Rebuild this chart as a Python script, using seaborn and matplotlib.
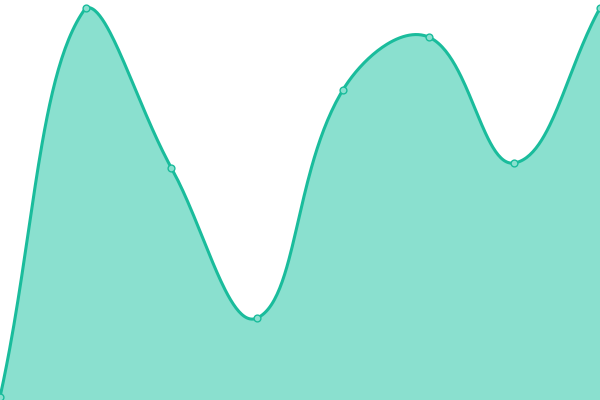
import matplotlib
matplotlib.use('Agg')
import matplotlib.pyplot as plt
import numpy as np
import pandas as pd
import seaborn as sns

# values (one per category, bottom of plot = 0, top = 400)
labels = ['a', 'b', 'c', 'd', 'e', 'f', 'g', 'h']
values = [3, 392, 232, 82, 310, 363, 237, 392]

LINE = '#1abc9c'
FILL = '#8ae0cf'
WIDTH = 600
HEIGHT = 400
TENSION = 0.4


def spline_control_points(px, py, tension):
    """Chart.js style control points, capped to the chart area."""
    n = len(px)
    prev_cp = np.zeros((n, 2))
    next_cp = np.zeros((n, 2))
    for i in range(n):
        p0 = (px[max(i - 1, 0)], py[max(i - 1, 0)])
        p1 = (px[i], py[i])
        p2 = (px[min(i + 1, n - 1)], py[min(i + 1, n - 1)])
        d01 = np.hypot(p1[0] - p0[0], p1[1] - p0[1])
        d12 = np.hypot(p2[0] - p1[0], p2[1] - p1[1])
        tot = d01 + d12
        s01 = d01 / tot if tot else 0
        s12 = d12 / tot if tot else 0
        fa, fb = tension * s01, tension * s12
        prev_cp[i] = (p1[0] - fa * (p2[0] - p0[0]), p1[1] - fa * (p2[1] - p0[1]))
        next_cp[i] = (p1[0] + fb * (p2[0] - p0[0]), p1[1] + fb * (p2[1] - p0[1]))
    for cp in (prev_cp, next_cp):
        cp[:, 0] = np.clip(cp[:, 0], 0, WIDTH)
        cp[:, 1] = np.clip(cp[:, 1], 0, HEIGHT)
    return prev_cp, next_cp


def smooth_curve(px, py, tension, steps=60):
    prev_cp, next_cp = spline_control_points(px, py, tension)
    t = np.linspace(0, 1, steps)[:, None]
    parts = []
    for i in range(len(px) - 1):
        a = np.array([px[i], py[i]])
        b = next_cp[i]
        c = prev_cp[i + 1]
        d = np.array([px[i + 1], py[i + 1]])
        seg = ((1 - t) ** 3) * a + 3 * ((1 - t) ** 2) * t * b + 3 * (1 - t) * t ** 2 * c + t ** 3 * d
        parts.append(seg if i == 0 else seg[1:])
    return np.vstack(parts)


def main():
    sns.set_style('white')
    xs = np.linspace(0, WIDTH, len(labels))
    ys = np.array(values, dtype=float)
    curve = smooth_curve(xs, ys, TENSION)
    curve_df = pd.DataFrame({'x': curve[:, 0], 'y': curve[:, 1]})
    points_df = pd.DataFrame({'x': xs, 'y': ys, 'label': labels})

    fig = plt.figure(figsize=(6, 4), dpi=100)
    ax = fig.add_axes([0, 0, 1, 1])
    ax.fill_between(curve_df['x'], curve_df['y'], 0, color=FILL, linewidth=0, zorder=1)
    sns.lineplot(data=curve_df, x='x', y='y', color=LINE, linewidth=2.2,
                 sort=False, estimator=None, ax=ax, zorder=2)
    sns.scatterplot(data=points_df, x='x', y='y', color=FILL, edgecolor=LINE,
                    linewidth=1, s=24, ax=ax, zorder=3)
    ax.set_xlim(0, WIDTH)
    ax.set_ylim(0, HEIGHT)
    ax.axis('off')
    fig.savefig('out.png', dpi=100)


if __name__ == '__main__':
    main()
